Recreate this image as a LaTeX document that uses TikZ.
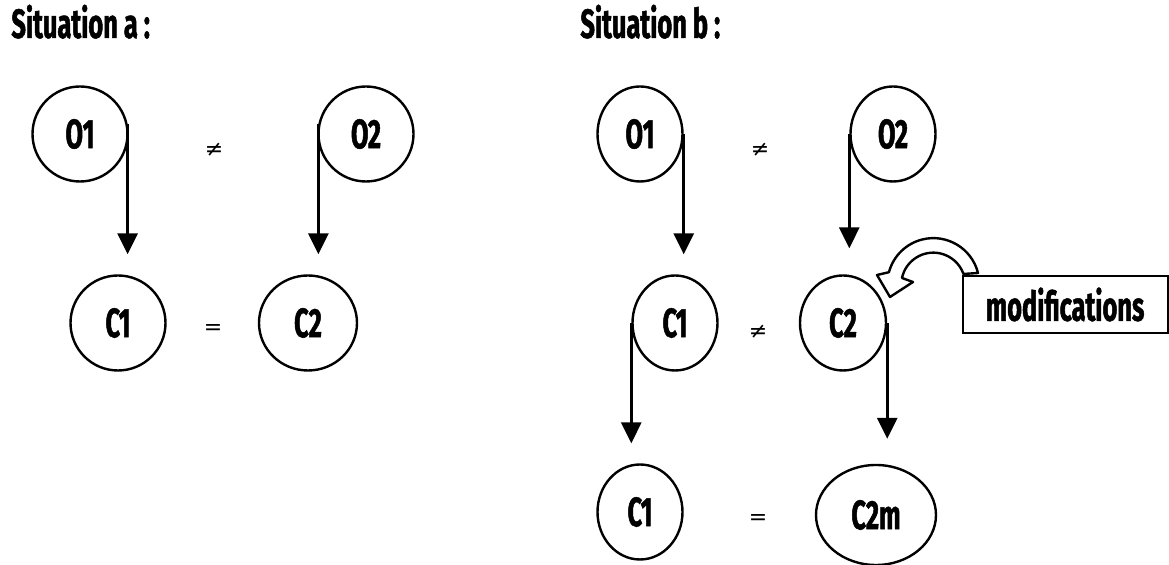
\documentclass[tikz,border=0pt]{standalone}
\usepackage{fontspec}
\setmainfont[FakeStretch=0.62, BoldFeatures={FakeBold=1.2}]{Fira Sans}
\newfontfamily\symb{DejaVu Sans}
\usepackage{tikz}
\usetikzlibrary{shapes.geometric}
\usetikzlibrary{arrows.meta}

\tikzset{
    bulle/.style={ellipse, draw, line width=1.2pt, inner sep=0pt,
        font=\bfseries\fontsize{20.5}{24}\selectfont},
    fleche/.style={line width=1.5pt, -{Triangle[width=10pt,length=10.5pt]}},
    titre/.style={anchor=base west, inner sep=0pt,
        font=\bfseries\fontsize{20.5}{24}\selectfont},
    signe/.style={inner sep=1pt, font=\symb\fontsize{11}{13}\selectfont}
}

\begin{document}
\begin{tikzpicture}[x=0.5pt,y=-0.5pt]
    \useasboundingbox (0,0) rectangle (1169,565);

    % situation a
    \node[titre] (ta) at (11,38) {Situation a :};

    \node[bulle,
    minimum width=47.5pt,
    minimum height=47.5pt] (o1a) at (80,134) {O1};
    \node[bulle,
    minimum width=47.5pt,
    minimum height=47.5pt] (o2a) at (366,134) {O2};
    \node[bulle,
    minimum width=47.5pt,
    minimum height=47.5pt] (c1a) at (118,323) {C1};
    \node[bulle,
    minimum width=49pt,
    minimum height=47.5pt] (c2a) at (308,323) {C2};

    \node[signe] (neqa) at (214,150) {≠};
    \node[signe] (eqa) at (213,330) {=};

    \draw[fleche, shorten >=10pt] (o1a.12) -- (o1a.12 |- c1a.north);
    \draw[fleche, shorten >=10pt] (o2a.168) -- (o2a.168 |- c2a.north);

    % situation b
    \node[titre] (tb) at (580,38) {Situation b :};

    \node[bulle,
    minimum width=42.5pt,
    minimum height=47.5pt] (o1b) at (640,134) {O1};
    \node[bulle,
    minimum width=42.5pt,
    minimum height=47.5pt] (o2b) at (893,134) {O2};
    \node[bulle,
    minimum width=42.5pt,
    minimum height=47.5pt] (c1b) at (675,323) {C1};
    \node[bulle,
    minimum width=43pt,
    minimum height=47.5pt] (c2b) at (843,323) {C2};
    \node[bulle,
    minimum width=42.5pt,
    minimum height=47.5pt] (c1c) at (640,512) {C1};
    \node[bulle,
    minimum width=60pt,
    minimum height=50pt] (c2m) at (876,515) {C2m};

    \node[signe] (neqb) at (760,150) {≠};
    \node[signe] (neqc) at (758,332) {≠};
    \node[signe] (eqb) at (758,520) {=};

    \draw[fleche, shorten >=10pt] (o1b.east) -- (o1b.east |- c1b.north);
    \draw[fleche, shorten >=13pt] (o2b.west) -- (o2b.west |- c2b.north);
    \draw[fleche, shorten >=10pt] (c1b.west) -- (c1b.west |- c1c.north);
    \draw[fleche, shorten >=12.5pt] (c2b.east) -- (c2b.east |- c2m.north);

    % fleche courbe
    \draw[line width=1.2pt, fill=white, line join=round] (978,273) arc[start angle=14, end angle=165, radius=23pt]
        -- (877,275) -- (890,297) -- (913,282) -- (902,278)
        arc[start angle=168, end angle=19.5, radius=16pt] -- cycle;

    \node[draw,
    line width=1pt,
    fill=white,
    inner sep=0pt,
    minimum width=102.5pt,
    minimum height=28.5pt,
    font=\bfseries\fontsize{20.5}{24}\selectfont] (modif) at (1065,304.5) {modifications};

\end{tikzpicture}
\end{document}
